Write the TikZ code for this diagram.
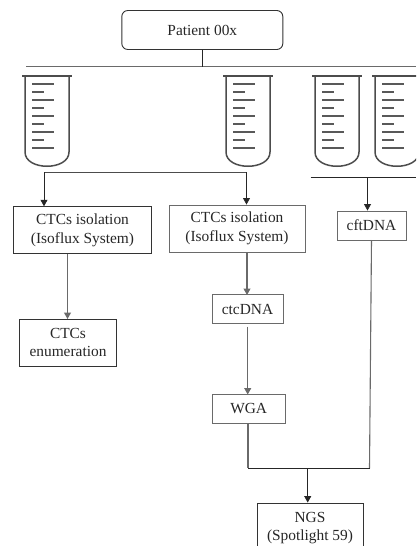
\documentclass[tikz,border=0pt]{standalone}
\usepackage{fontspec}
\setmainfont{Liberation Serif}
\usetikzlibrary{arrows.meta}
\definecolor{lineGrey}{HTML}{6A6A6A}
\tikzset{
  x=1pt,y=-1pt,
  box/.style={draw=#1,line width=0.9pt,inner sep=0pt,align=center,font=\fontsize{15.4}{18.8}\selectfont,text=black!85},
  box/.default=black!80,
  greybox/.style={box=lineGrey},
  grey/.style={draw=lineGrey,line width=1.1pt},
  dark/.style={draw=black!85,line width=0.8pt},
  tip/.style={-{Triangle[length=6.5pt,width=7pt]}},
  tube/.pic={
    \draw[draw=black!70,line width=1.5pt] (-25,0)--(25,0);
    \draw[draw=black!70,line width=1.5pt] (-22,0)--(-22,76) .. controls (-22,95) and (22,95) .. (22,76)--(22,0);
    \foreach \yy/\xx in {8/7,16/-3,24/7,32/-3,40/7,48/-3,56/7,64/-3,72/7}
      \draw[draw=black!65,line width=1.1pt] (-15,\yy)--(\xx,\yy);
  }
}
\begin{document}
\begin{tikzpicture}
\useasboundingbox (0,0) rectangle (416,546);
\clip (0,0) rectangle (416,546);
\node[box,rounded corners=6pt,minimum width=161pt,minimum height=39pt] (patient) at (202.3,30) {Patient 00x};
\coordinate (busL) at (26,66.7);
\coordinate (busR) at (416,66.7);
\coordinate (busM) at (patient.south |- busL);
\draw[grey] (busL)--(busR);
\draw[dark] (patient.south)--(busM);
\pic at (47,76) {tube};
\pic at (248,76) {tube};
\pic at (337,76) {tube};
\pic at (397,76) {tube};

\node[box,minimum width=138pt,minimum height=46.5pt] (iso1) at (82.5,230) {CTCs isolation\\(Isoflux System)};
\node[greybox,minimum width=136pt,minimum height=47pt] (iso2) at (237,228.5) {CTCs isolation\\(Isoflux System)};
\node[greybox,minimum width=69pt,minimum height=29pt] (cft) at (371.5,225.5) {cftDNA};
\node[box,minimum width=97pt,minimum height=47pt] (enum) at (68,342.5) {CTCs\\enumeration};
\node[greybox,minimum width=71pt,minimum height=28.5pt] (ctc) at (247.5,309) {ctcDNA};
\node[greybox,minimum width=72.5pt,minimum height=28.5pt] (wga) at (248.7,408.7) {WGA};
\node[box,minimum width=106pt,minimum height=50pt] (ngs) at (310,528) {NGS\\(Spotlight 59)};

\coordinate (forkL) at (44,172);
\coordinate (forkR) at (246.5,172);
\draw[grey,draw=black!70,line width=0.9pt] (forkR)--(forkL);
\draw[dark,tip] (forkL)--(forkL |- iso1.north);
\draw[dark,tip] (forkR)--(forkR |- iso2.north);
\coordinate (cfL) at (310.5,177.5);
\coordinate (cfR) at (416,177.5);
\coordinate (cfM) at (367.5,177.5);
\draw[dark] (cfL)--(cfR);
\draw[dark,tip] (cfM)--(cfM |- cft.north);

\draw[grey,tip] (67.5,253.5)--(67.5,319);
\draw[grey,tip] (247,252)--(247,295);
\draw[grey,tip] (247.7,326.5)--(247.7,394.5);
\coordinate (joinL) at (248,468.3);
\coordinate (joinR) at (369.5,468.3);
\coordinate (joinM) at (307.7,468.3);
\draw[grey] (wga.south -| joinL)--(joinL);
\draw[grey] (371.5,240)--(joinR);
\draw[dark] (joinL)--(joinR);
\draw[dark,tip] (joinM)--(joinM |- ngs.north);
\end{tikzpicture}
\end{document}
